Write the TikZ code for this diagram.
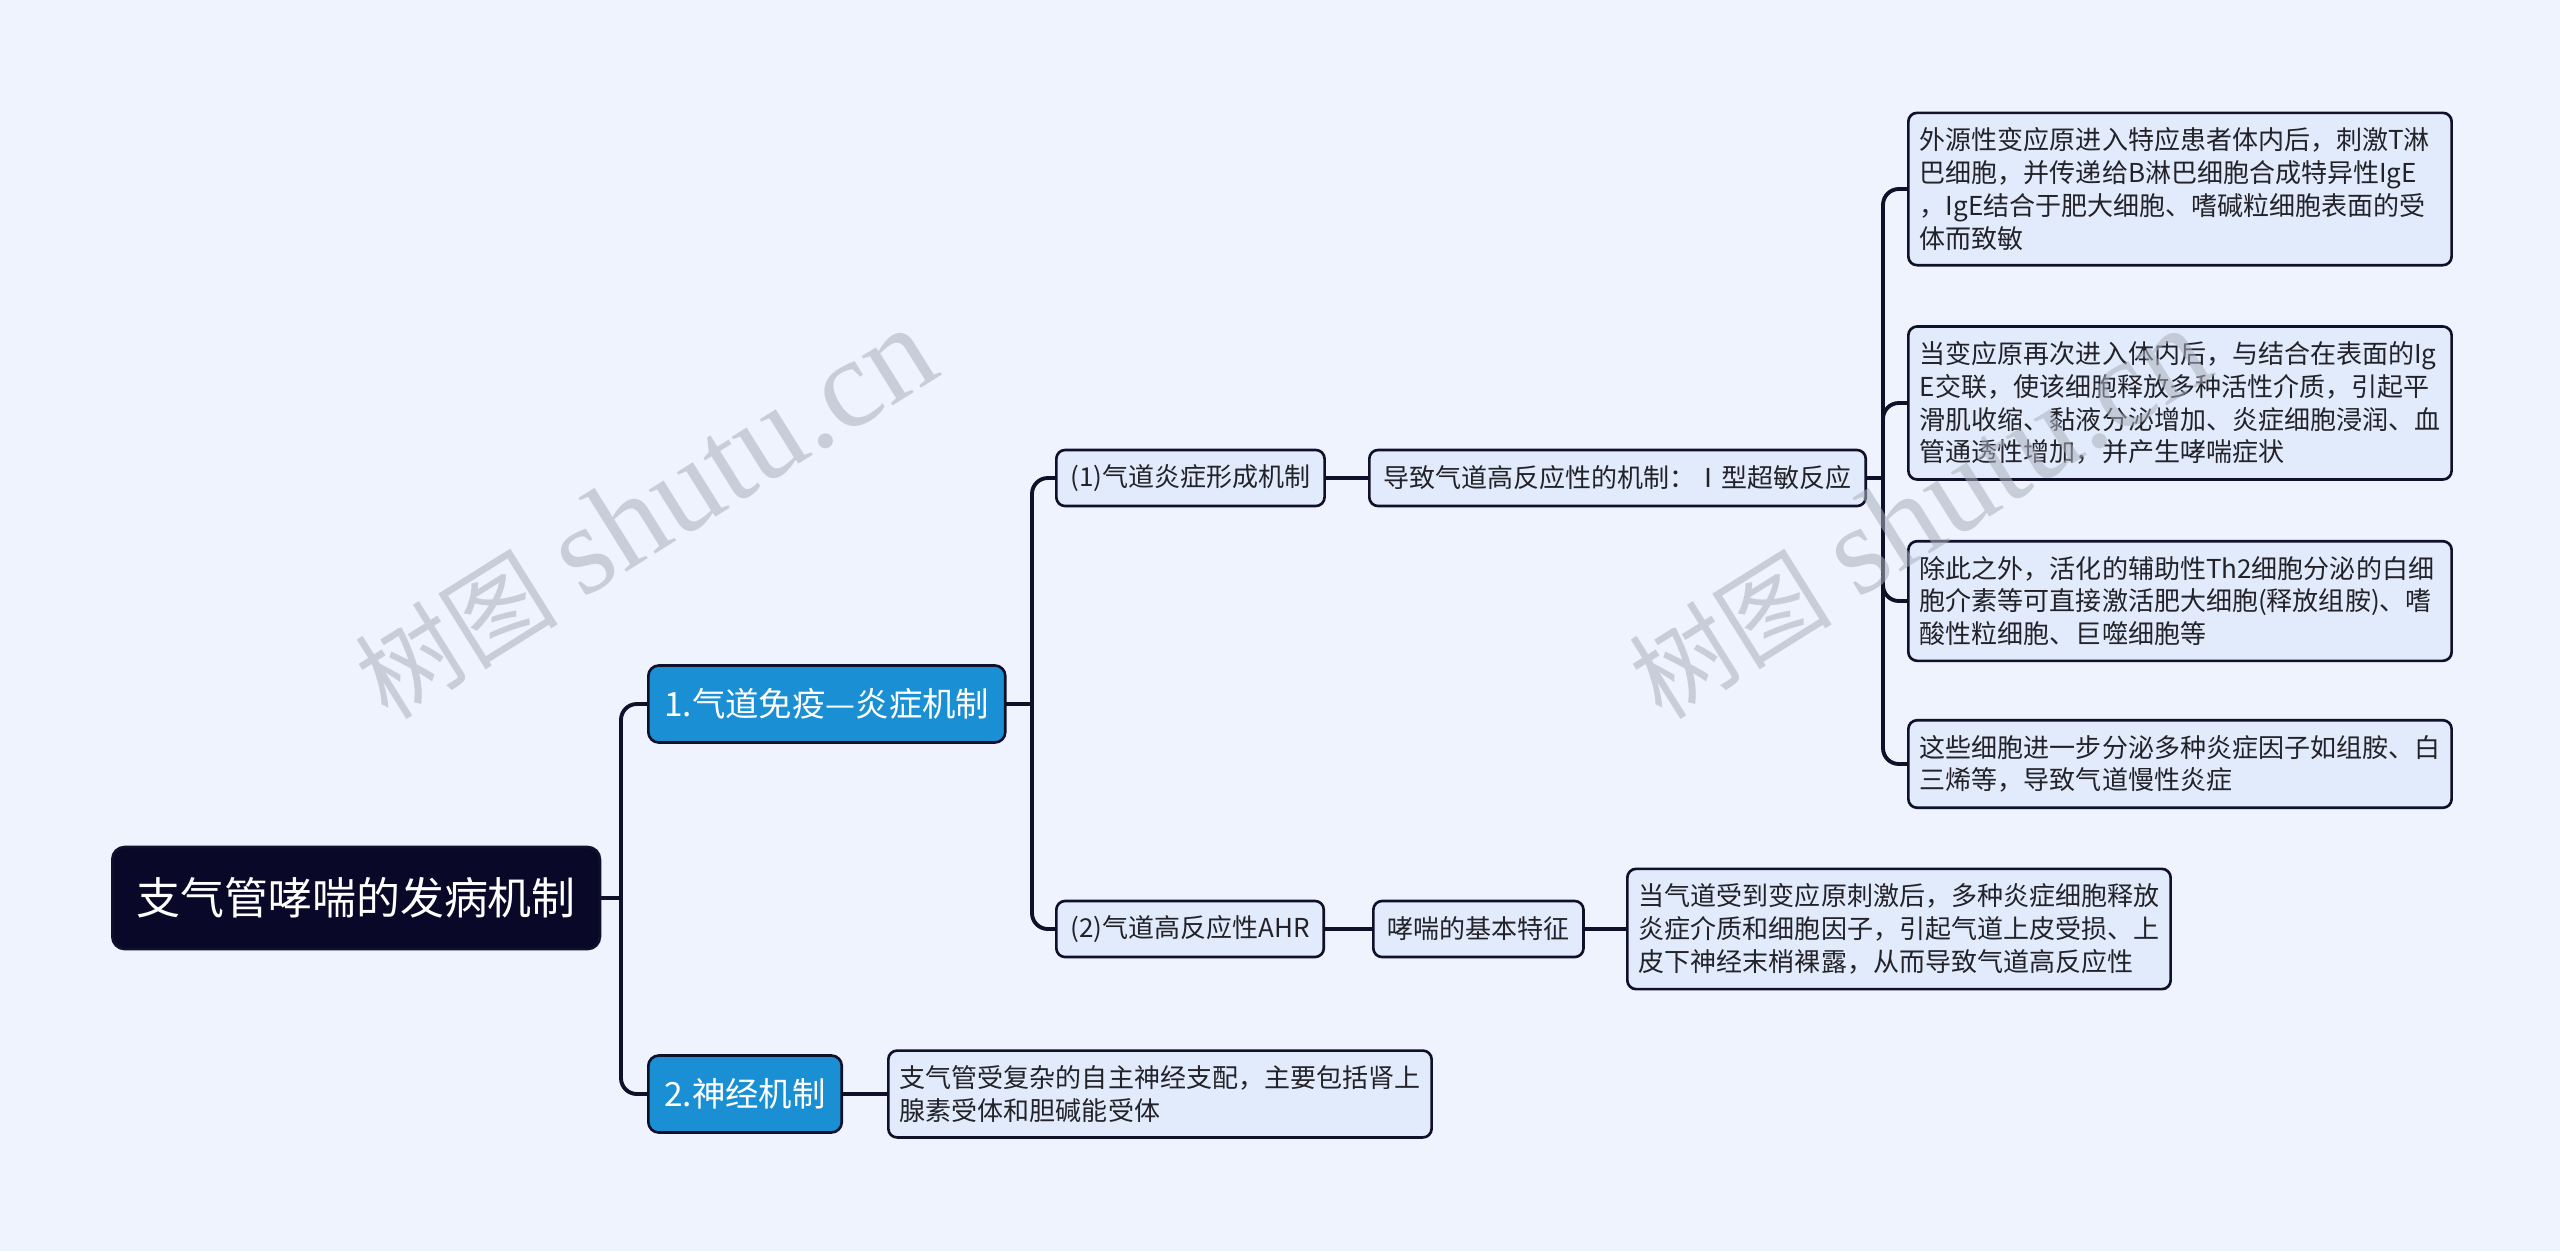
\documentclass[tikz,border=0pt]{standalone}
\usepackage{fontspec}
\setmainfont{Noto Sans CJK SC}
\newfontfamily\wmserif{Liberation Serif}

\definecolor{sfondo}{RGB}{238,243,254}
\definecolor{inchiostro}{RGB}{16,16,42}
\definecolor{radice}{RGB}{10,8,40}
\definecolor{ramo}{RGB}{26,143,211}
\definecolor{foglia}{RGB}{226,235,252}
\definecolor{testo}{RGB}{34,34,40}
\definecolor{filigrana}{RGB}{170,176,188}

\tikzset{
  box/.style={draw=inchiostro, line width=0.75pt, rounded corners=2.5pt, fill=foglia,
    text=testo, font=\fontsize{7.4}{9.3}\selectfont, inner xsep=0.14cm,
    minimum height=0.56cm, anchor=west},
  leaf/.style={box, text width=5.2cm, align=left, inner xsep=0.115cm, inner ysep=0.15cm},
  primo/.style={box, fill=ramo, text=white, font=\fontsize{9.5}{11}\selectfont,
    minimum height=0.77cm, inner xsep=0.16cm, rounded corners=3pt},
  radicebox/.style={box, fill=radice, text=white, font=\fontsize{12.5}{14}\selectfont,
    minimum height=1.02cm, inner xsep=0.24cm, rounded corners=3.5pt},
  link/.style={draw=inchiostro, line width=1.1pt, rounded corners=4.5pt},
  filigranatxt/.style={text=filigrana, opacity=0.55, rotate=32, inner sep=0pt}
}

\begin{document}
\begin{tikzpicture}[x=0.01cm, y=-0.01cm, line cap=round, line join=round]

% Sfondo
\fill[sfondo] (0,0) rectangle (2560,1251);
\useasboundingbox (0,0) rectangle (2560,1251);

% Radice
\node[radicebox] (root) at (111,898) {支气管哮喘的发病机制};

% Primo livello
\node[primo] (A) at (647,704) {1.气道免疫—炎症机制};
\node[primo] (B) at (647,1094) {2.神经机制};

% Secondo livello
\node[box] (A1) at (1055,478) {(1)气道炎症形成机制};
\node[box] (A2) at (1055,929) {(2)气道高反应性AHR};
\node[box] (A1x) at (1368,478) {导致气道高反应性的机制：Ⅰ型超敏反应};
\node[box] (A2x) at (1372,929) {哮喘的基本特征};

% Foglie
\node[leaf] (d1) at (1907,189) {外源性变应原进入特应患者体内后，刺激T淋\\巴细胞，并传递给B淋巴细胞合成特异性IgE\\，IgE结合于肥大细胞、嗜碱粒细胞表面的受\\体而致敏};
\node[leaf] (d2) at (1907,403) {当变应原再次进入体内后，与结合在表面的Ig\\E交联，使该细胞释放多种活性介质，引起平\\滑肌收缩、黏液分泌增加、炎症细胞浸润、血\\管通透性增加，并产生哮喘症状};
\node[leaf] (d3) at (1907,601) {除此之外，活化的辅助性Th2细胞分泌的白细\\胞介素等可直接激活肥大细胞(释放组胺)、嗜\\酸性粒细胞、巨噬细胞等};
\node[leaf] (d4) at (1907,764) {这些细胞进一步分泌多种炎症因子如组胺、白\\三烯等，导致气道慢性炎症};
\node[leaf] (e1) at (1626,929) {当气道受到变应原刺激后，多种炎症细胞释放\\炎症介质和细胞因子，引起气道上皮受损、上\\皮下神经末梢裸露，从而导致气道高反应性};
\node[leaf] (B1) at (887,1094) {支气管受复杂的自主神经支配，主要包括肾上\\腺素受体和胆碱能受体};

% Biforcazioni
\coordinate (f0) at (621,898);
\coordinate (fA) at (1032,704);
\coordinate (fD) at (1883,478);

% Collegamenti
\draw[link] (root.east) -- (f0);
\foreach \n in {A,B} \draw[link] (f0) |- (\n.west);
\draw[link] (A.east) -- (fA);
\foreach \n in {A1,A2} \draw[link] (fA) |- (\n.west);
\draw[link] (A1.east) -- (A1x.west);
\draw[link] (A2.east) -- (A2x.west);
\draw[link] (A2x.east) -- (e1.west);
\draw[link] (B.east) -- (B1.west);
\draw[link] (A1x.east) -- (fD);
\foreach \n in {d1,d2,d3,d4} \draw[link] (fD) |- (\n.west);

% Filigrana
\foreach \wx in {645,1919}
  \node[filigranatxt] (wm\wx) at (\wx,514) {\fontsize{29}{29}\selectfont 树图\hspace{0.25em}{\wmserif\fontsize{36}{36}\selectfont shutu.cn}};

\end{tikzpicture}
\end{document}
